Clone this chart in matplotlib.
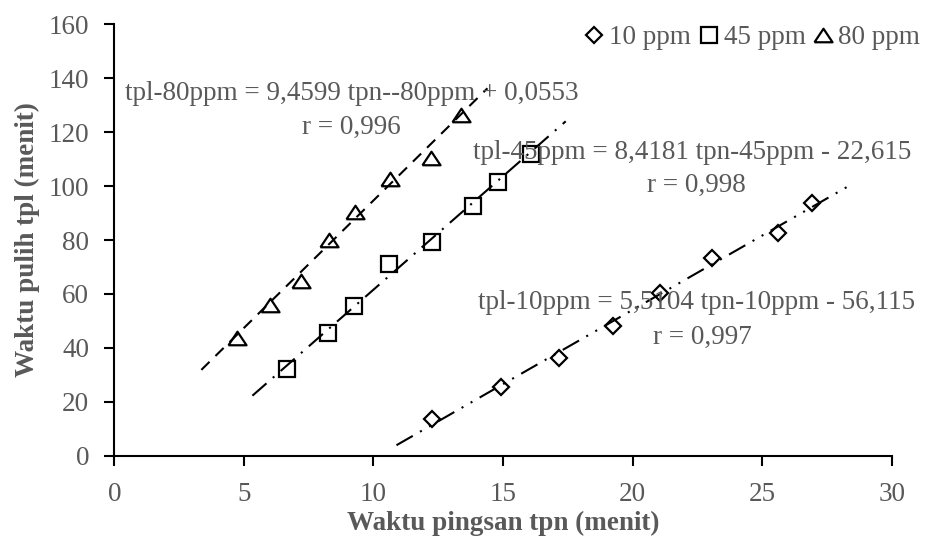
import matplotlib
matplotlib.use("Agg")
import matplotlib.pyplot as plt
import numpy as np

plt.rcParams['font.family'] = ['Liberation Serif', 'DejaVu Serif']

# ---- data ----
x10 = [12.25, 14.91, 17.15, 19.26, 21.07, 23.06, 25.63, 26.93]
y10 = [13.5, 25.4, 36.1, 48.1, 60.2, 73.2, 82.5, 93.8]
x45 = [6.65, 8.24, 9.24, 10.61, 12.27, 13.83, 14.80, 16.08]
y45 = [32.2, 45.4, 55.5, 71.1, 79.2, 92.5, 101.5, 112.0]
x80 = [4.72, 6.01, 7.21, 8.29, 9.29, 10.64, 12.21, 13.37]
y80 = [43.5, 55.9, 64.8, 80.0, 90.3, 102.5, 110.3, 126.4]

# trendline coefficients (slope, intercept) and extents
coef10 = (5.5104, -56.115)
coef45 = (8.4181, -22.615)
coef80 = (9.4599, 0.0553)
range10 = (10.89, 28.3)
range45 = (5.33, 17.42)
range80 = (3.36, 14.4)

eq10 = "tpl-10ppm = 5,5104 tpn-10ppm - 56,115"
eq45 = "tpl-45ppm = 8,4181 tpn-45ppm - 22,615"
eq80 = "tpl-80ppm = 9,4599 tpn--80ppm + 0,0553"
r10 = "r = 0,997"
r45 = "r = 0,998"
r80 = "r = 0,996"

labels = ["10 ppm", "45 ppm", "80 ppm"]
xticks = [0, 5, 10, 15, 20, 25, 30]
yticks = [0, 20, 40, 60, 80, 100, 120, 140, 160]

gray = '#595959'
fs = 19.5

fig = plt.figure(figsize=(9.26, 5.37), dpi=100)
ax = fig.add_axes([0.1234, 0.1514, 0.8396, 0.8033])

tri = [(-1, -0.75), (1, -0.75), (0, 0.75), (-1, -0.75)]
mk = dict(linestyle='none', markerfacecolor='white', markeredgecolor='black',
          markeredgewidth=1.6, zorder=2)
h1, = ax.plot(x10, y10, marker='D', markersize=8, label=labels[0], **mk)
h2, = ax.plot(x45, y45, marker='s', markersize=11, label=labels[1], **mk)
h3, = ax.plot(x80, y80, marker=tri, markersize=13, label=labels[2], **mk)

def trend(coef, rng, dashes):
    xs = np.array(rng)
    ys = coef[0] * xs + coef[1]
    ln, = ax.plot(xs, ys, color='black', lw=1.5, zorder=3)
    ln.set_dashes(dashes)

trend(coef80, range80, (5.5, 4.0))
trend(coef45, range45, (9.0, 4.0, 1.0, 4.0))
trend(coef10, range10, (9.0, 4.0, 1.0, 4.0, 1.0, 4.0))

ax.set_xlim(0, 30)
ax.set_ylim(0, 160)
ax.set_xticks(xticks)
ax.set_yticks(yticks)
for s in ['top', 'right']:
    ax.spines[s].set_visible(False)
for s in ['left', 'bottom']:
    ax.spines[s].set_linewidth(1.5)
    ax.spines[s].set_color('black')
ax.tick_params(axis='both', direction='out', length=7, width=1.5, color='black',
               labelsize=fs, labelcolor=gray)
ax.tick_params(axis='y', pad=11)
ax.tick_params(axis='x', pad=12)

ax.set_xlabel("Waktu pingsan tpn (menit)", fontsize=fs, fontweight='bold', color=gray, labelpad=3)
ax.set_ylabel("Waktu pulih tpl (menit)", fontsize=fs, fontweight='bold', color=gray, labelpad=6)

tk = dict(ha='center', va='center', fontsize=fs, color=gray, zorder=5)
ax.text(9.17, 134.5, eq80, **tk)
ax.text(9.14, 121.9, r80, **tk)
ax.text(22.3, 112.3, eq45, **tk)
ax.text(22.48, 100.3, r45, **tk)
ax.text(22.48, 57.0, eq10, **tk)
ax.text(22.68, 43.7, r10, **tk)

leg = fig.legend(handles=[h1, h2, h3], loc='upper right', bbox_to_anchor=(1.014, 0.988),
                 ncol=3, frameon=False, fontsize=fs, handlelength=0.7,
                 handletextpad=0.2, columnspacing=0.3, borderpad=0.2)
for t in leg.get_texts():
    t.set_color(gray)

fig.savefig("out.png", dpi=100)
